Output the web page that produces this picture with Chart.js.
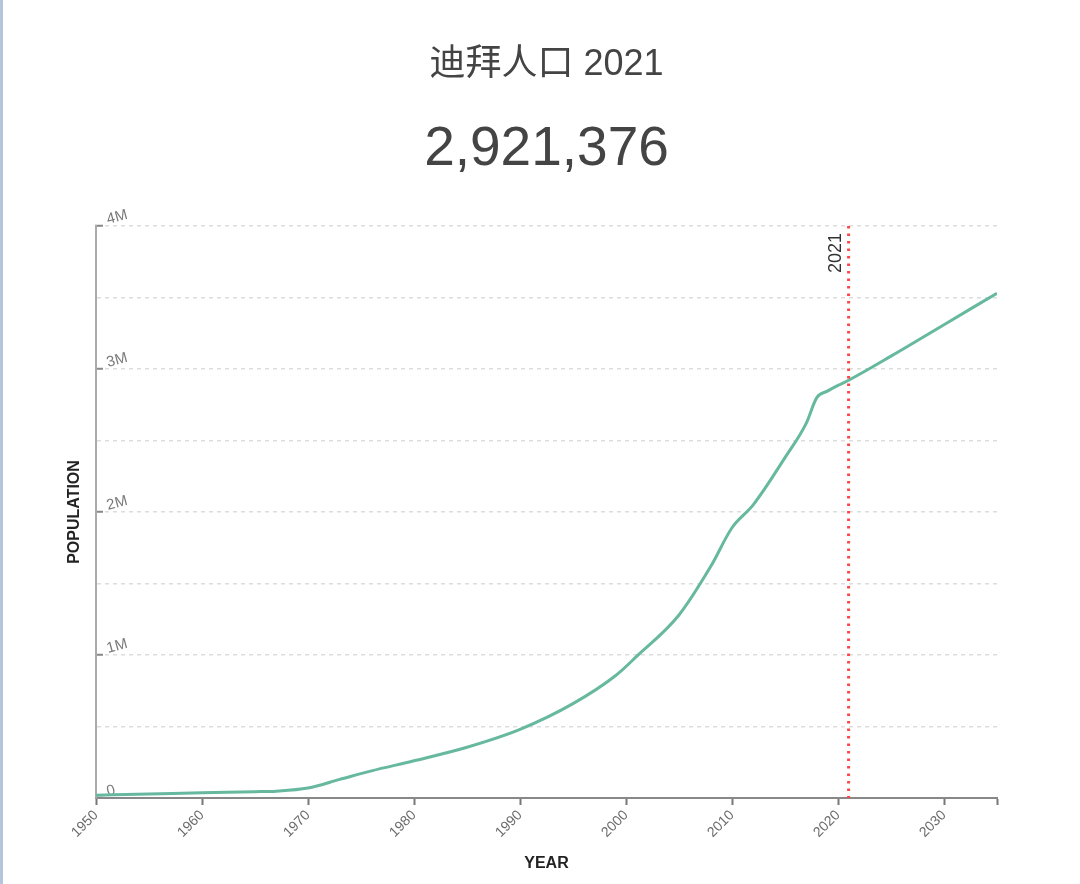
<!DOCTYPE html>
<html>
<head>
<meta charset="utf-8">
<script src="https://cdn.jsdelivr.net/npm/chart.js@4/dist/chart.umd.min.js"></script>
<style>
  html, body { margin: 0; padding: 0; background: #fff; overflow: hidden; }
  #wrap { position: relative; width: 1080px; height: 884px; }
  #edge { position: absolute; left: 0; top: 0; width: 3px; height: 884px; background: #b4c5dc; }
  canvas { display: block; }
</style>
</head>
<body>
<div id="wrap">
  <canvas id="c" width="1080" height="884"></canvas>
  <div id="edge"></div>
</div>
<script>
const titleText = '迪拜人口 2021';
const headlineValue = '2,921,376';
const markerYear = 2021;
const markerLabel = '2021';

const years = [1950, 1955, 1960, 1965, 1967, 1970, 1973, 1976, 1980, 1985, 1990, 1995, 1999, 2001, 2005, 2008, 2010, 2012, 2015, 2017, 2018, 2019, 2020, 2021, 2025, 2030, 2035];
const population = [20000, 28000, 37000, 44000, 48000, 70000, 130000, 190000, 260000, 355000, 480000, 660000, 855000, 990000, 1280000, 1620000, 1890000, 2050000, 2380000, 2620000, 2800000, 2845000, 2885000, 2921376, 3090000, 3310000, 3530000];

const xTickValues = [1950, 1960, 1970, 1980, 1990, 2000, 2010, 2020, 2030, 2035];
const xTickLabels = ['1950', '1960', '1970', '1980', '1990', '2000', '2010', '2020', '2030', ''];
const yTickValues = [0, 500000, 1000000, 1500000, 2000000, 2500000, 3000000, 3500000, 4000000];
const yTickLabels = ['0', '', '1M', '', '2M', '', '3M', '', '4M'];

const FONT = "Helvetica, Arial, 'Liberation Sans', 'Noto Sans CJK SC', sans-serif";

const headerPlugin = {
  id: 'header',
  afterDraw(chart) {
    const area = chart.chartArea, ctx = chart.ctx;
    const cx = (area.left + area.right) / 2;
    ctx.save();
    ctx.fillStyle = '#444';
    ctx.textAlign = 'center';
    ctx.textBaseline = 'middle';
    ctx.font = '36px ' + FONT;
    ctx.fillText(titleText, cx, 65);
    ctx.font = '55px ' + FONT;
    ctx.fillText(headlineValue, cx, 150);
    ctx.restore();
  }
};

const markerPlugin = {
  id: 'marker',
  afterDatasetsDraw(chart) {
    const xs = chart.scales.x, area = chart.chartArea;
    const px = xs.getPixelForValue(markerYear);
    const ctx = chart.ctx;
    ctx.save();
    ctx.strokeStyle = '#ff4646';
    ctx.lineWidth = 3;
    ctx.setLineDash([2.5, 5]);
    ctx.beginPath();
    ctx.moveTo(px, area.top);
    ctx.lineTo(px, area.bottom);
    ctx.stroke();
    ctx.setLineDash([]);
    ctx.translate(px - 8, area.top + 7);
    ctx.rotate(-Math.PI / 2);
    ctx.fillStyle = '#333';
    ctx.font = '18px ' + FONT;
    ctx.textAlign = 'right';
    ctx.textBaseline = 'alphabetic';
    ctx.fillText(markerLabel, 0, 0);
    ctx.restore();
  }
};

new Chart(document.getElementById('c'), {
  type: 'line',
  data: {
    datasets: [{
      data: years.map((y, i) => ({ x: y, y: population[i] })),
      borderColor: '#66b89e',
      borderWidth: 3,
      pointRadius: 0,
      fill: false,
      tension: 0.4,
      cubicInterpolationMode: 'monotone'
    }]
  },
  options: {
    responsive: false,
    animation: false,
    devicePixelRatio: 1,
    layout: { padding: { left: 0, right: 83, top: 226, bottom: 0 } },
    plugins: {
      legend: { display: false },
      tooltip: { enabled: false },
      title: { display: false },
      subtitle: { display: false }
    },
    scales: {
      x: {
        type: 'linear',
        min: 1950,
        max: 2035,
        afterBuildTicks(scale) { scale.ticks = xTickValues.map(v => ({ value: v })); },
        afterFit(scale) { scale.height = 86; },
        ticks: {
          autoSkip: false,
          minRotation: 45,
          maxRotation: 45,
          padding: 2,
          color: '#6a6a6a',
          font: { family: FONT, size: 14 },
          callback: (v, i) => xTickLabels[i]
        },
        grid: { drawOnChartArea: false, drawTicks: true, tickLength: 7, tickColor: '#777', tickWidth: 2 },
        border: { display: true, color: '#888', width: 2 },
        title: {
          display: true,
          text: 'YEAR',
          color: '#222',
          font: { family: FONT, size: 16, weight: 'bold', lineHeight: 1.2 },
          padding: { top: 0, bottom: 11 }
        }
      },
      y: {
        type: 'linear',
        min: 0,
        max: 4000000,
        afterBuildTicks(scale) { scale.ticks = yTickValues.map(v => ({ value: v })); },
        afterFit(scale) { scale.width = 96; },
        ticks: {
          mirror: true,
          padding: 11,
          minRotation: 15,
          maxRotation: 15,
          labelOffset: -6,
          color: '#7a7a7a',
          font: { family: FONT, size: 15 },
          callback: (v, i) => yTickLabels[i]
        },
        grid: {
          color: '#dddddd',
          lineWidth: 1.5,
          drawTicks: true,
          tickLength: -7,
          tickWidth: 2,
          tickColor: ctx => (ctx.tick && yTickLabels[ctx.index] !== '' ? '#888' : 'rgba(0,0,0,0)')
        },
        border: { display: true, color: '#aaa', width: 2, dash: [4, 4] },
        title: {
          display: true,
          text: 'POPULATION',
          color: '#222',
          font: { family: FONT, size: 16, weight: 'bold', lineHeight: 1.2 },
          padding: { top: 65, bottom: 0 }
        }
      }
    }
  },
  plugins: [markerPlugin, headerPlugin]
});
</script>
</body>
</html>
